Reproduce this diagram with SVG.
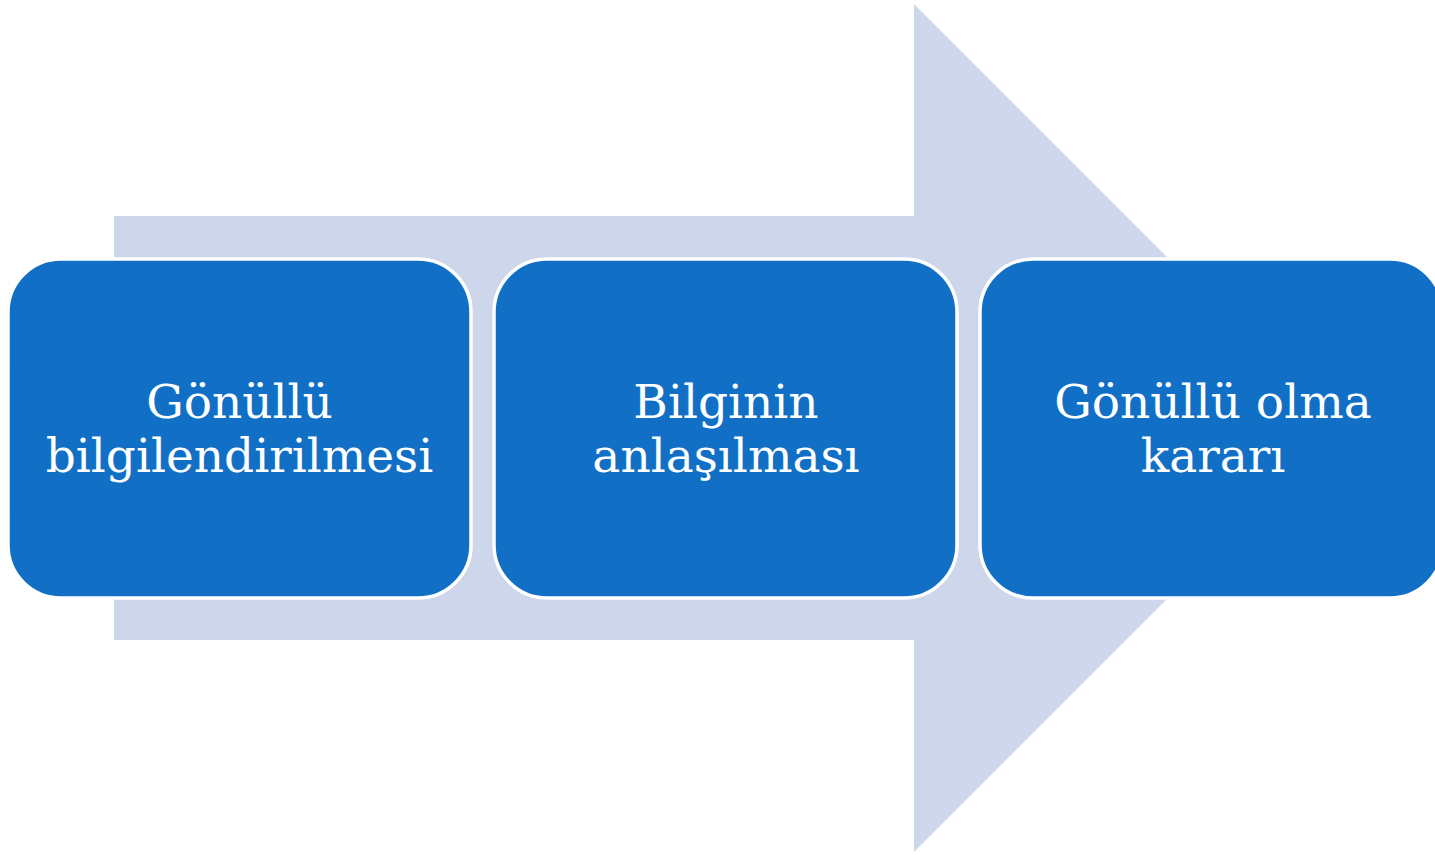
<svg xmlns="http://www.w3.org/2000/svg" width="1435" height="855" viewBox="0 0 1435 855">
  <style>
    .box { fill: #1170C6; stroke: #FFFFFF; stroke-width: 3.5; }
    .lbl { font-family: "DejaVu Serif", "Liberation Serif", serif; font-size: 47px; fill: #FFFFFF; text-anchor: middle; }
  </style>
  <rect width="1435" height="855" fill="#FFFFFF"/>
  <g id="connectors">
    <path id="big-arrow" d="M114 216 H914 V4 L1338 428 L914 852 V640 H114 Z" fill="#CDD6EA"/>
  </g>
  <g id="node1">
    <rect class="box" x="8" y="259" width="463" height="339" rx="53" ry="53"/>
    <text class="lbl" x="239.5" y="418">Gönüllü</text>
    <text class="lbl" x="239.5" y="472">bilgilendirilmesi</text>
  </g>
  <g id="node2">
    <rect class="box" x="494" y="259" width="463" height="339" rx="53" ry="53"/>
    <text class="lbl" x="726" y="418">Bilginin</text>
    <text class="lbl" x="726" y="472">anlaşılması</text>
  </g>
  <g id="node3">
    <rect class="box" x="980" y="259" width="463" height="339" rx="53" ry="53"/>
    <text class="lbl" x="1213" y="418">Gönüllü olma</text>
    <text class="lbl" x="1213" y="472">kararı</text>
  </g>
</svg>
